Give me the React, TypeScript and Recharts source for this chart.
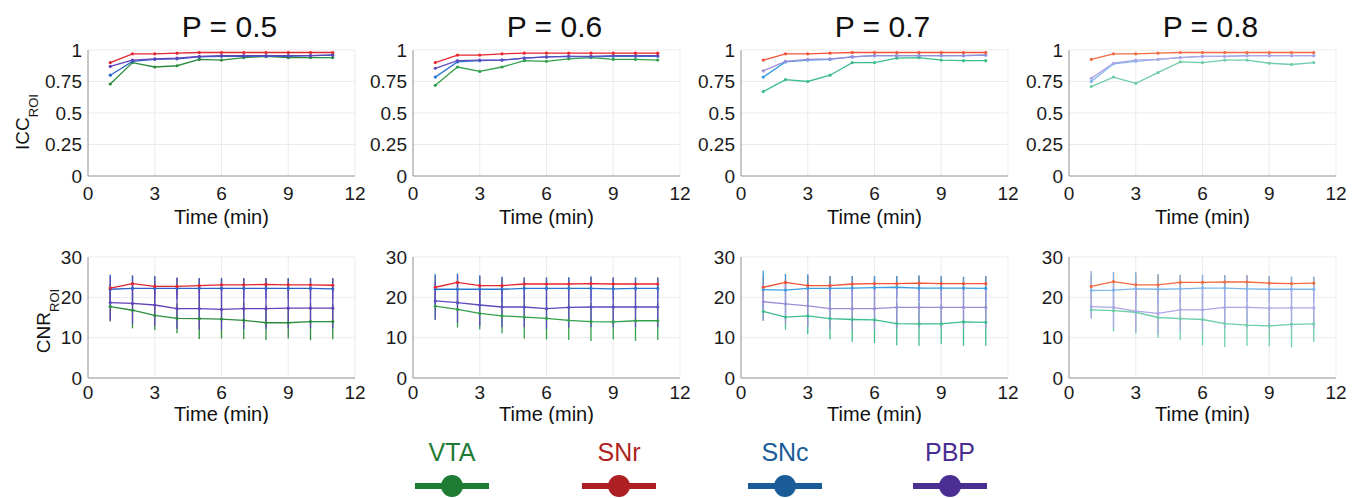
import React from 'react';
import { LineChart, Line, XAxis, YAxis, CartesianGrid, ErrorBar } from 'recharts';

// ---------- data ----------
const time = [1, 2, 3, 4, 5, 6, 7, 8, 9, 10, 11];
const pLabels = ['P = 0.5', 'P = 0.6', 'P = 0.7', 'P = 0.8'];
const seriesNames = ['VTA', 'SNr', 'SNc', 'PBP'];
const xTicks = [0, 3, 6, 9, 12];
const iccTicks = [0, 0.25, 0.5, 0.75, 1];
const cnrTicks = [0, 10, 20, 30];

// ICC_ROI, one row per P value
const iccVTA = [
  [0.73, 0.9, 0.865, 0.875, 0.925, 0.92, 0.94, 0.95, 0.94, 0.94, 0.94],
  [0.72, 0.865, 0.83, 0.865, 0.915, 0.91, 0.93, 0.94, 0.925, 0.925, 0.92],
  [0.67, 0.765, 0.75, 0.8, 0.9, 0.9, 0.935, 0.94, 0.92, 0.915, 0.915],
  [0.71, 0.785, 0.735, 0.82, 0.905, 0.9, 0.92, 0.92, 0.895, 0.885, 0.9],
];
const iccSNr = [
  [0.9, 0.97, 0.97, 0.975, 0.98, 0.98, 0.98, 0.98, 0.98, 0.98, 0.98],
  [0.9, 0.96, 0.96, 0.97, 0.975, 0.975, 0.975, 0.975, 0.975, 0.975, 0.975],
  [0.92, 0.97, 0.97, 0.975, 0.98, 0.98, 0.98, 0.98, 0.98, 0.98, 0.98],
  [0.925, 0.97, 0.97, 0.975, 0.98, 0.98, 0.98, 0.98, 0.98, 0.98, 0.98],
];
const iccSNc = [
  [0.8, 0.91, 0.925, 0.93, 0.945, 0.95, 0.95, 0.95, 0.95, 0.955, 0.96],
  [0.785, 0.905, 0.915, 0.92, 0.935, 0.945, 0.95, 0.945, 0.95, 0.95, 0.95],
  [0.785, 0.905, 0.92, 0.925, 0.945, 0.955, 0.955, 0.955, 0.955, 0.955, 0.96],
  [0.75, 0.89, 0.91, 0.925, 0.94, 0.95, 0.95, 0.955, 0.955, 0.955, 0.955],
];
const iccPBP = [
  [0.87, 0.92, 0.93, 0.935, 0.95, 0.955, 0.955, 0.955, 0.955, 0.955, 0.96],
  [0.855, 0.915, 0.92, 0.92, 0.935, 0.945, 0.95, 0.95, 0.955, 0.955, 0.955],
  [0.835, 0.91, 0.925, 0.93, 0.945, 0.955, 0.955, 0.955, 0.955, 0.955, 0.96],
  [0.775, 0.895, 0.92, 0.925, 0.94, 0.95, 0.95, 0.955, 0.955, 0.955, 0.955],
];

// CNR_ROI means
const cnrVTA = [
  [17.7, 16.8, 15.5, 14.8, 14.7, 14.6, 14.3, 13.7, 13.7, 14.0, 14.0],
  [17.8, 17.0, 16.0, 15.4, 15.1, 14.8, 14.3, 14.0, 13.9, 14.2, 14.2],
  [16.5, 15.1, 15.4, 14.7, 14.5, 14.4, 13.5, 13.4, 13.4, 13.9, 13.8],
  [16.9, 16.7, 16.3, 15.0, 14.7, 14.5, 13.5, 13.1, 12.9, 13.3, 13.4],
];
const cnrSNr = [
  [22.3, 23.4, 22.7, 22.7, 22.9, 23.1, 23.1, 23.2, 23.1, 23.1, 23.0],
  [22.5, 23.7, 22.9, 22.9, 23.3, 23.3, 23.3, 23.4, 23.3, 23.3, 23.3],
  [22.5, 23.7, 22.9, 22.9, 23.3, 23.4, 23.4, 23.5, 23.4, 23.4, 23.4],
  [22.7, 23.9, 23.1, 23.1, 23.7, 23.7, 23.8, 23.8, 23.5, 23.4, 23.5],
];
const cnrSNc = [
  [22.0, 22.2, 22.2, 22.2, 22.2, 22.2, 22.2, 22.2, 22.2, 22.2, 22.1],
  [22.0, 22.0, 22.0, 22.0, 22.2, 22.2, 22.2, 22.2, 22.1, 22.2, 22.2],
  [21.9, 21.8, 22.2, 22.2, 22.3, 22.4, 22.5, 22.3, 22.3, 22.3, 22.2],
  [21.7, 21.8, 22.1, 22.0, 22.1, 22.3, 22.3, 22.1, 22.0, 22.0, 22.0],
];
const cnrPBP = [
  [18.7, 18.5, 18.1, 17.2, 17.2, 17.0, 17.2, 17.2, 17.3, 17.3, 17.3],
  [19.1, 18.7, 18.1, 17.6, 17.6, 17.2, 17.5, 17.6, 17.6, 17.6, 17.6],
  [18.9, 18.4, 17.9, 17.2, 17.2, 17.2, 17.5, 17.5, 17.5, 17.5, 17.5],
  [17.7, 17.5, 16.6, 16.0, 16.9, 16.9, 17.5, 17.5, 17.3, 17.4, 17.4],
];

// CNR_ROI error (half-length of the error bars)
const errVTA = [
  [3.7, 4.5, 3.6, 3.7, 5.0, 4.8, 4.6, 4.3, 3.9, 4.6, 4.4],
  [3.4, 4.5, 4.0, 4.3, 5.3, 5.2, 4.9, 4.8, 4.3, 5.0, 4.8],
  [2.3, 3.1, 4.5, 5.1, 5.5, 5.7, 5.4, 5.4, 5.0, 5.9, 5.8],
  [1.9, 5.1, 5.2, 5.0, 5.3, 6.4, 5.8, 5.1, 5.0, 5.7, 4.4],
];
const errSNr = [
  [2.8, 2.0, 2.4, 2.1, 1.8, 1.6, 1.6, 1.6, 1.6, 1.6, 1.7],
  [2.8, 2.0, 2.4, 2.1, 1.6, 1.6, 1.6, 1.6, 1.6, 1.6, 1.6],
  [3.0, 2.0, 2.6, 2.3, 1.9, 1.8, 1.8, 1.8, 1.8, 1.7, 1.8],
  [3.2, 2.2, 2.8, 2.5, 1.8, 1.8, 1.7, 1.7, 1.8, 1.7, 1.6],
];
const errSNc = [
  [3.6, 3.2, 3.1, 2.7, 2.6, 2.6, 2.6, 2.6, 2.6, 2.6, 2.7],
  [3.8, 3.9, 3.5, 3.1, 2.7, 2.7, 2.8, 3.0, 2.8, 2.7, 2.7],
  [4.7, 4.0, 3.5, 3.1, 3.0, 2.9, 2.8, 3.2, 2.9, 2.8, 3.0],
  [4.8, 4.5, 4.2, 3.8, 3.5, 3.3, 3.2, 3.4, 3.3, 3.1, 3.1],
];
const errPBP = [
  [4.5, 5.0, 5.2, 5.0, 5.2, 5.0, 5.0, 5.0, 5.0, 5.0, 5.0],
  [4.6, 5.0, 5.2, 5.0, 5.0, 5.0, 5.0, 5.0, 5.0, 5.0, 5.0],
  [4.7, 5.0, 5.2, 5.2, 5.2, 5.2, 5.2, 5.2, 5.2, 5.2, 5.2],
  [3.0, 5.0, 5.2, 5.2, 5.2, 5.2, 5.2, 5.2, 5.2, 5.2, 5.2],
];

// ---------- styles ----------
const FONT = "'Liberation Sans', Arial, Helvetica, sans-serif";
const lineColors = [
  { vta: '#2c8c3c', snr: '#e0262e', snc: '#2c63c9', pbp: '#6242b8' },
  { vta: '#33a04a', snr: '#e8262e', snc: '#2a78d0', pbp: '#5f4cbf' },
  { vta: '#3dbd8c', snr: '#f25236', snc: '#3a9ee0', pbp: '#9e8ed8' },
  { vta: '#6fcdaa', snr: '#f46a42', snc: '#7cb6ea', pbp: '#aea6e6' },
];
const legendColors = ['#1e7b34', '#ae1f23', '#1a5c98', '#4b2e92'];
const legendX = [452, 619, 785, 950];

const PLOT_LEFTS = [88, 413, 741, 1069];
const PLOT_W = 267;
const YAXIS_W = 80;
const MR = 20;
const MT = 12;

const keys = ['vta', 'snr', 'snc', 'pbp'] as const;

function yLabel(main: string, sub: string, x: number, y: number) {
  return () => (
    <text
      x={x}
      y={y}
      transform={`rotate(-90, ${x}, ${y})`}
      textAnchor="middle"
      fontSize={19}
      fill="#111"
      fontFamily={FONT}
    >
      {main}
      <tspan fontSize={13} dy={9}>
        {sub}
      </tspan>
    </text>
  );
}

function Panel({ col, row }: { col: number; row: number }) {
  const isTop = row === 0;
  const plotTop = isTop ? 50 : 257;
  const plotH = isTop ? 126 : 121;
  const xAxisH = isTop ? 52 : 46;
  const c = lineColors[col];

  const data = time.map((t, i) =>
    isTop
      ? { t, vta: iccVTA[col][i], snr: iccSNr[col][i], snc: iccSNc[col][i], pbp: iccPBP[col][i] }
      : {
          t,
          vta: cnrVTA[col][i],
          snr: cnrSNr[col][i],
          snc: cnrSNc[col][i],
          pbp: cnrPBP[col][i],
          vtaE: errVTA[col][i],
          snrE: errSNr[col][i],
          sncE: errSNc[col][i],
          pbpE: errPBP[col][i],
        }
  );

  const tickStyle = { fill: '#1a1a1a', fontSize: 19, fontFamily: FONT };

  return (
    <div style={{ position: 'absolute', left: PLOT_LEFTS[col] - YAXIS_W, top: plotTop - MT }}>
      <LineChart
        width={YAXIS_W + PLOT_W + MR}
        height={MT + plotH + xAxisH}
        data={data}
        margin={{ top: MT, right: MR, left: 0, bottom: 0 }}
      >
        <CartesianGrid stroke="#ebebeb" strokeWidth={1} />
        <XAxis
          type="number"
          dataKey="t"
          domain={[0, 12]}
          ticks={xTicks}
          interval={0}
          tickLine={false}
          tickSize={0}
          tickMargin={isTop ? 11 : 8}
          axisLine={{ stroke: '#9a9a9a' }}
          tick={tickStyle}
          height={xAxisH}
          label={{
            value: 'Time (min)',
            position: 'insideBottom',
            offset: isTop ? 4 : 3,
            fill: '#111',
            fontSize: 20,
            fontFamily: FONT,
          }}
        />
        <YAxis
          type="number"
          domain={isTop ? [0, 1] : [0, 30]}
          ticks={isTop ? iccTicks : cnrTicks}
          interval={0}
          width={YAXIS_W}
          tickLine={false}
          tickSize={0}
          tickMargin={6}
          axisLine={{ stroke: '#9a9a9a' }}
          tick={tickStyle}
          allowDataOverflow
          label={
            col === 0
              ? isTop
                ? yLabel('ICC', 'ROI', 21, 84)
                : yLabel('CNR', 'ROI', 42, 76)
              : undefined
          }
        />
        {!isTop &&
          (['vta', 'snr', 'snc', 'pbp'] as const).map((k) => (
            <Line
              key={`e-${k}`}
              dataKey={k}
              stroke="none"
              dot={false}
              activeDot={false}
              isAnimationActive={false}
            >
              <ErrorBar
                dataKey={`${k}E`}
                direction="y"
                width={0}
                stroke={c[k]}
                strokeWidth={1.3}
                isAnimationActive={false}
              />
            </Line>
          ))}
        {(['vta', 'snc', 'pbp', 'snr'] as const).map((k) => (
          <Line
            key={k}
            dataKey={k}
            stroke={c[k]}
            strokeWidth={1.3}
            dot={{ r: 1.6, fill: c[k], stroke: c[k], strokeWidth: 0 }}
            activeDot={false}
            isAnimationActive={false}
          />
        ))}
      </LineChart>
    </div>
  );
}

export default function App() {
  return (
    <div
      style={{
        position: 'absolute',
        left: 0,
        top: 0,
        width: 1365,
        height: 498,
        background: '#fff',
        fontFamily: FONT,
        overflow: 'hidden',
      }}
    >
      {[0, 1, 2, 3].map((col) => (
        <Panel key={`t${col}`} col={col} row={0} />
      ))}
      {[0, 1, 2, 3].map((col) => (
        <Panel key={`b${col}`} col={col} row={1} />
      ))}
      <svg
        width={1365}
        height={498}
        style={{ position: 'absolute', left: 0, top: 0, pointerEvents: 'none' }}
      >
        {pLabels.map((p, i) => (
          <text
            key={p}
            x={PLOT_LEFTS[i] + PLOT_W / 2 + 8}
            y={37}
            textAnchor="middle"
            fontSize={30}
            fill="#111"
            fontFamily={FONT}
          >
            {p}
          </text>
        ))}
        {seriesNames.map((name, i) => (
          <g key={name}>
            <text
              x={legendX[i]}
              y={461}
              textAnchor="middle"
              fontSize={25}
              fill={legendColors[i]}
              fontFamily={FONT}
            >
              {name}
            </text>
            <line
              x1={legendX[i] - 37}
              x2={legendX[i] + 37}
              y1={486}
              y2={486}
              stroke={legendColors[i]}
              strokeWidth={6}
            />
            <circle cx={legendX[i]} cy={486} r={11} fill={legendColors[i]} />
          </g>
        ))}
      </svg>
    </div>
  );
}
